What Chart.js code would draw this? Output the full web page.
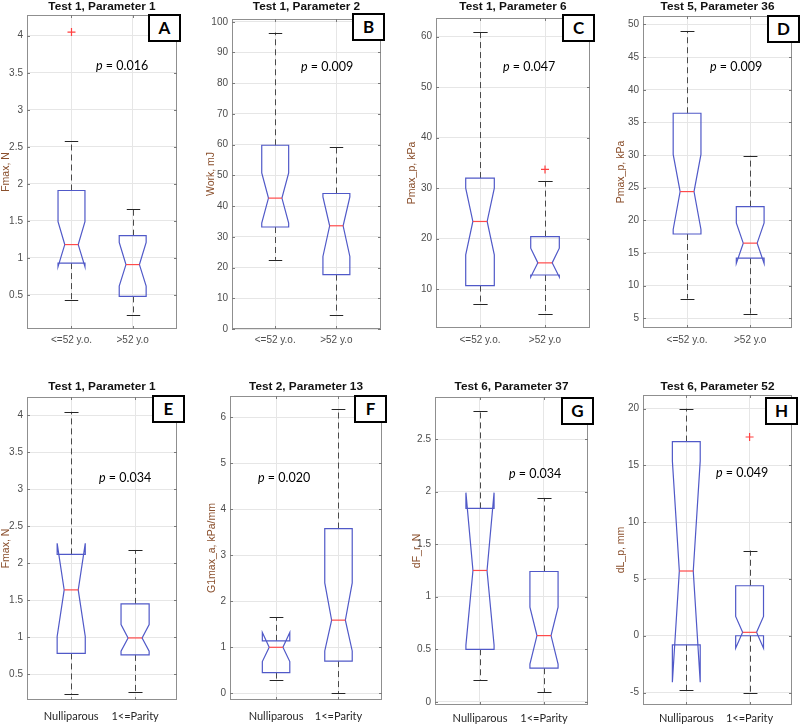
<!DOCTYPE html>
<html><head><meta charset="utf-8">
<script src="https://cdn.jsdelivr.net/npm/chart.js@4.4.1/dist/chart.umd.min.js"></script>
<style>
html,body{margin:0;padding:0;background:#fff;}
#wrap{position:relative;width:800px;height:726px;overflow:hidden;background:#fff;}
#wrap canvas{position:absolute;}
.ptxt{position:absolute;font-family:Lato,'Open Sans',sans-serif;font-size:12.5px;color:#000;white-space:nowrap;line-height:14px;height:14px;}
.ptxt i{font-style:italic;}
.tag{position:absolute;box-sizing:border-box;width:33px;height:28px;border:2px solid #000;background:#fff;font-family:Lato,'Liberation Sans',sans-serif;font-weight:bold;font-size:17px;line-height:24px;text-align:center;color:#000;}
</style></head><body><div id="wrap"></div>
<script>
// ---------- DATA ----------
const ageGroups = ['<=52 y.o.', '>52 y.o'];
const parityGroups = ['Nulliparous', '1<=Parity'];
const panelLetters = ['A','B','C','D','E','F','G','H'];
const panelTitles = ['Test 1, Parameter 1','Test 1, Parameter 2','Test 1, Parameter 6','Test 5, Parameter 36',
                     'Test 1, Parameter 1','Test 2, Parameter 13','Test 6, Parameter 37','Test 6, Parameter 52'];
const yAxisLabels = ['Fmax, N','Work, mJ','Pmax_p, kPa','Pmax_p, kPa','Fmax, N','G1max_a, kPa/mm','dF_r, N','dL_p, mm'];
const pValues = ['0.016','0.009','0.047','0.009','0.034','0.020','0.034','0.049'];
// per panel: [group1, group2]
const whiskerLow  = [[0.43,0.23],[22.5,4.7],[7.1,5.1],[8.0,5.7],[0.23,0.26],[0.30,0.0],[0.21,0.09],[-4.8,-5.0]];
const quart1      = [[0.93,0.48],[33.2,17.7],[10.7,12.8],[17.9,14.2],[0.78,0.76],[0.45,0.70],[0.50,0.32],[-0.8,0.0]];
const notchLow    = [[0.88,0.62],[34.5,23.6],[16.8,12.4],[18.6,13.4],[1.01,0.81],[0.69,0.92],[0.54,0.36],[-4.1,-1.1]];
const medians     = [[1.18,0.91],[42.6,33.6],[23.4,15.2],[24.4,16.5],[1.64,0.99],[1.00,1.59],[1.25,0.63],[5.7,0.3]];
const notchHigh   = [[1.49,1.21],[50.8,43.0],[30.0,18.1],[30.1,19.6],[2.27,1.17],[1.32,2.40],[1.99,0.90],[15.4,1.7]];
const quart3      = [[1.91,1.30],[59.8,44.1],[32.0,20.4],[36.4,22.1],[2.12,1.45],[1.14,3.58],[1.84,1.24],[17.1,4.4]];
const whiskerHigh = [[2.58,1.66],[96.5,59.3],[60.9,31.4],[49.0,29.9],[4.05,2.18],[1.65,6.17],[2.77,1.94],[20.0,7.5]];
const outliers    = [[[4.05],[]],[[],[]],[[],[33.7]],[[],[]],[[],[]],[[],[]],[[],[]],[[],[17.5]]];
const yTickValues = [
  [0.5,1,1.5,2,2.5,3,3.5,4],
  [0,10,20,30,40,50,60,70,80,90,100],
  [10,20,30,40,50,60],
  [5,10,15,20,25,30,35,40,45,50],
  [0.5,1,1.5,2,2.5,3,3.5,4],
  [0,1,2,3,4,5,6],
  [0,0.5,1,1.5,2,2.5],
  [-5,0,5,10,15,20]
];
const panelGroups = [ageGroups,ageGroups,ageGroups,ageGroups,parityGroups,parityGroups,parityGroups,parityGroups];

// ---------- LAYOUT (positions / styles only) ----------
const rows = [{top:0,h:360,titleTop:0},{top:360,h:366,titleTop:20}];
const panels = [
 {L:27, R:177,T:15, B:329,yW:27,row:0,xMin:0.273,xMax:2.724,yMin:0.04, yMax:4.28, xPad:5, p:[96,66], tag:[148,14]},
 {L:232,R:381,T:19, B:329,yW:27,row:0,xMin:0.294,xMax:2.729,yMin:0,    yMax:100.9,xPad:5, p:[301,67],tag:[352,13]},
 {L:436,R:590,T:18, B:328,yW:30,row:0,xMin:0.323,xMax:2.692,yMin:2.3,  yMax:63.7, xPad:6, p:[503,67],tag:[562,14]},
 {L:643,R:792,T:16, B:328,yW:28,row:0,xMin:0.302,xMax:2.662,yMin:3.5,  yMax:51.3, xPad:6, p:[710,67],tag:[767,15]},
 {L:27, R:177,T:397,B:700,yW:27,row:1,xMin:0.308,xMax:2.656,yMin:0.15, yMax:4.25, xPad:10,p:[99,478],tag:[152,395]},
 {L:230,R:382,T:396,B:700,yW:24,row:1,xMin:0.262,xMax:2.697,yMin:-0.145,yMax:6.46,xPad:10,p:[258,478],tag:[354,395]},
 {L:435,R:588,T:397,B:705,yW:24,row:1,xMin:0.297,xMax:2.6875,yMin:-0.03,yMax:2.9, xPad:7, p:[509,474],tag:[561,397]},
 {L:643,R:792,T:395,B:705,yW:28,row:1,xMin:0.316,xMax:2.67,yMin:-6.1,  yMax:21.2, xPad:7, p:[716,473],tag:[765,397]}
];
const BOX_HALF = 0.22;
const TITLE_FS = 11.8;
const TITLE_LH = TITLE_FS * 1.2;

const notchBoxPlugin = {
  id: 'notchBox',
  afterDatasetsDraw(chart, args, opts) {
    const k = opts.k;
    const xs = chart.scales.x, ys = chart.scales.y, ctx = chart.ctx;
    const Y = v => ys.getPixelForValue(v);
    ctx.save();
    for (let g = 0; g < 2; g++) {
      const xc = Math.round(xs.getPixelForValue(g + 1)) + 0.5;
      const xl = xs.getPixelForValue(g + 1 - BOX_HALF);
      const xr = xs.getPixelForValue(g + 1 + BOX_HALF);
      const w = xr - xl, q = w / 4;
      // whiskers (dashed)
      ctx.lineWidth = 1;
      ctx.strokeStyle = '#4a4a4a';
      ctx.setLineDash([6, 4]);
      ctx.beginPath();
      ctx.moveTo(xc, Y(quart3[k][g])); ctx.lineTo(xc, Y(whiskerHigh[k][g]));
      ctx.moveTo(xc, Y(quart1[k][g])); ctx.lineTo(xc, Y(whiskerLow[k][g]));
      ctx.stroke();
      ctx.setLineDash([]);
      // caps
      ctx.strokeStyle = '#262626';
      ctx.beginPath();
      const yh = Math.round(Y(whiskerHigh[k][g])) + 0.5, yl = Math.round(Y(whiskerLow[k][g])) + 0.5;
      ctx.moveTo(xc - w / 4, yh); ctx.lineTo(xc + w / 4, yh);
      ctx.moveTo(xc - w / 4, yl); ctx.lineTo(xc + w / 4, yl);
      ctx.stroke();
      // notched box
      ctx.strokeStyle = '#5059c8';
      ctx.lineWidth = 1.2;
      ctx.beginPath();
      ctx.moveTo(xl, Y(quart1[k][g]));
      ctx.lineTo(xl, Y(notchLow[k][g]));
      ctx.lineTo(xl + q, Y(medians[k][g]));
      ctx.lineTo(xl, Y(notchHigh[k][g]));
      ctx.lineTo(xl, Y(quart3[k][g]));
      ctx.lineTo(xr, Y(quart3[k][g]));
      ctx.lineTo(xr, Y(notchHigh[k][g]));
      ctx.lineTo(xr - q, Y(medians[k][g]));
      ctx.lineTo(xr, Y(notchLow[k][g]));
      ctx.lineTo(xr, Y(quart1[k][g]));
      ctx.closePath();
      ctx.stroke();
      // median
      ctx.strokeStyle = '#ff4a4a';
      ctx.lineWidth = 1.2;
      ctx.beginPath();
      ctx.moveTo(xl + q, Y(medians[k][g])); ctx.lineTo(xr - q, Y(medians[k][g]));
      ctx.stroke();
    }
    ctx.restore();
  },
  afterDraw(chart) {
    const {ctx, chartArea: a} = chart;
    const xs = chart.scales.x, ys = chart.scales.y;
    ctx.save();
    ctx.strokeStyle = '#8f8f8f';
    ctx.lineWidth = 1;
    ctx.strokeRect(Math.round(a.left) + 0.5, Math.round(a.top) + 0.5, Math.round(a.right - a.left) - 1, Math.round(a.bottom - a.top) - 1);
    ctx.strokeStyle = '#7a7a7a';
    ctx.beginPath();
    ys.ticks.forEach(t => {
      const y = Math.round(ys.getPixelForValue(t.value)) + 0.5;
      ctx.moveTo(a.left, y); ctx.lineTo(a.left + 3, y);
      ctx.moveTo(a.right, y); ctx.lineTo(a.right - 3, y);
    });
    xs.ticks.forEach(t => {
      const x = Math.round(xs.getPixelForValue(t.value)) + 0.5;
      ctx.moveTo(x, a.bottom); ctx.lineTo(x, a.bottom - 3);
      ctx.moveTo(x, a.top); ctx.lineTo(x, a.top + 3);
    });
    ctx.stroke();
    ctx.restore();
  }
};

const wrap = document.getElementById('wrap');
panels.forEach((P, k) => {
  const row = rows[P.row];
  const left = P.L - P.yW;
  const width = (P.R - P.L) + 2 * P.yW;   // symmetric so the title is centred over the frame
  const cv = document.createElement('canvas');
  cv.width = width; cv.height = row.h;
  cv.style.left = left + 'px'; cv.style.top = row.top + 'px';
  cv.style.width = width + 'px'; cv.style.height = row.h + 'px';
  wrap.appendChild(cv);
  const titleTop = Math.max(0, row.titleTop - (TITLE_FS - 11) * 0.6);
  const titleBottomPad = (P.T - row.top) - TITLE_LH - titleTop;
  const xH = Math.min(26, row.h - (P.B - row.top));
  const bottomPad = row.h - (P.B - row.top) - xH;
  const cats = panelGroups[k];
  const pts = [];
  outliers[k].forEach((arr, g) => arr.forEach(v => pts.push({x: g + 1, y: v})));
  const bottomRow = P.row === 1;
  new Chart(cv, {
    type: 'scatter',
    data: { datasets: [{ data: pts, pointStyle: 'cross', radius: 4, borderColor: '#ff4040', borderWidth: 1.2, backgroundColor: '#ff4040' }] },
    plugins: [notchBoxPlugin],
    options: {
      responsive: false, animation: false, devicePixelRatio: 1,
      layout: { padding: { left: 0, right: 0, top: 0, bottom: bottomPad } },
      plugins: {
        legend: { display: false }, tooltip: { enabled: false },
        notchBox: { k: k },
        title: { display: true, text: panelTitles[k], color: '#111',
          font: { family: 'Liberation Sans, Arial, sans-serif', size: TITLE_FS, weight: 'bold', lineHeight: 1.2 },
          padding: { top: titleTop, bottom: titleBottomPad } }
      },
      scales: {
        x: {
          type: 'linear', min: P.xMin, max: P.xMax,
          afterBuildTicks: s => { s.ticks = [{value: 1}, {value: 2}]; },
          afterFit: s => { s.height = xH; },
          ticks: {
            callback: (v, i) => cats[i],
            autoSkip: false, maxRotation: 0, minRotation: 0,
            padding: P.xPad,
            color: bottomRow ? '#262626' : '#4d4d4d',
            font: bottomRow ? { family: 'Lato, sans-serif', size: 11 } : { family: 'Liberation Sans, Arial, sans-serif', size: 10 }
          },
          grid: { color: '#e6e6e6', lineWidth: 1, drawTicks: false },
          border: { display: false }
        },
        y: {
          type: 'linear', min: P.yMin, max: P.yMax,
          afterBuildTicks: s => { s.ticks = yTickValues[k].map(v => ({value: v})); },
          afterFit: s => { s.width = P.yW; },
          ticks: {
            callback: v => String(v),
            padding: 4, color: '#4d4d4d',
            font: { family: 'Liberation Sans, Arial, sans-serif', size: 10 }
          },
          grid: { color: '#e6e6e6', lineWidth: 1, drawTicks: false },
          border: { display: false },
          title: { display: true, text: yAxisLabels[k], color: '#8a4f2c',
            padding: { top: 0, bottom: 0 },
            font: { family: 'Liberation Sans, Arial, sans-serif', size: 10.5, lineHeight: 1.1 } }
        },
        yRight: {
          type: 'linear', position: 'right', display: true,
          ticks: { display: false },
          grid: { display: false, drawTicks: false },
          border: { display: false },
          afterFit: s => { s.width = P.yW; }
        }
      }
    }
  });
  // p-value text
  const pd = document.createElement('div');
  pd.className = 'ptxt';
  pd.style.left = P.p[0] + 'px';
  pd.style.top = (P.p[1] - 7) + 'px';
  pd.innerHTML = '<i>p</i> = ' + pValues[k];
  wrap.appendChild(pd);
  // panel letter
  const td = document.createElement('div');
  td.className = 'tag';
  td.style.left = P.tag[0] + 'px';
  td.style.top = P.tag[1] + 'px';
  td.textContent = panelLetters[k];
  wrap.appendChild(td);
});
</script></body></html>
